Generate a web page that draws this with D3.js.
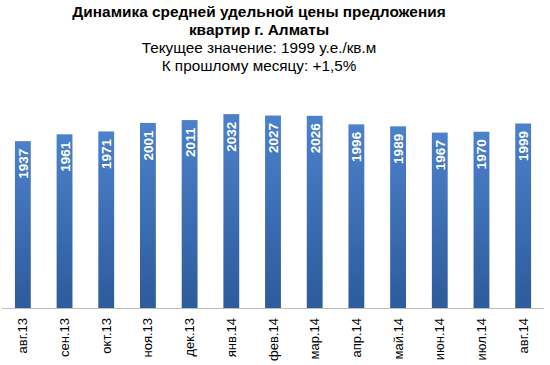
<!DOCTYPE html>
<html><head><meta charset="utf-8">
<script src="https://cdn.jsdelivr.net/npm/d3@7"></script>
<style>body{margin:0;background:#fff}svg{display:block}</style>
</head><body>
<svg id="c" width="550" height="365"></svg>
<script>
const categories = ["авг.13","сен.13","окт.13","ноя.13","дек.13","янв.14","фев.14","мар.14","апр.14","май.14","июн.14","июл.14","авг.14"];
const values = [1937,1961,1971,2001,2011,2032,2027,2026,1996,1989,1967,1970,1999];
const titleLines = ["Динамика средней удельной цены предложения","квартир г. Алматы"];
const subtitleLines = ["Текущее значение: 1999 у.е./кв.м","К прошлому месяцу: +1,5%"];

const svg = d3.select("#c");
const font = "Arial, 'Liberation Sans', sans-serif";
const defs = svg.append("defs");
const g = defs.append("linearGradient").attr("id","bg").attr("x1",0).attr("y1",0).attr("x2",0).attr("y2",1);
g.append("stop").attr("offset","0%").attr("stop-color","#4c81cb");
g.append("stop").attr("offset","100%").attr("stop-color","#2d5b9c");

const x = d3.scaleBand().domain(categories).range([2,544]).paddingInner(0.62).paddingOuter(0.31);
const y = d3.scaleLinear().domain([1350,2050]).range([308,109]);

svg.append("g").selectAll("rect").data(values).join("rect")
  .attr("x",(d,i)=>x(categories[i])).attr("width",x.bandwidth())
  .attr("y",d=>y(d)).attr("height",d=>y.range()[0]-y(d))
  .attr("fill","url(#bg)");

svg.append("g").selectAll("text").data(values).join("text")
  .attr("transform",(d,i)=>`translate(${x(categories[i])+x.bandwidth()/2+5},${y(d)+7.5}) rotate(-90)`)
  .attr("text-anchor","end").attr("fill","#fff").attr("font-weight","bold")
  .attr("font-family",font).attr("font-size","13.5px").text(d=>d);

const ax = svg.append("g").attr("transform","translate(0,308)")
  .call(d3.axisBottom(x).tickSize(0).tickPadding(0));
ax.select(".domain").attr("stroke","#bfbfbf").attr("d","M2,0.5H544");
ax.selectAll(".tick text").attr("font-family",font).attr("font-size","13px").attr("fill","#000")
  .attr("text-anchor","end").attr("dy",null).attr("y",0)
  .attr("transform","translate(4.5,10) rotate(-90)");

const cx = 259;
svg.append("g").selectAll("text").data(titleLines).join("text")
  .attr("x",cx).attr("y",(d,i)=>17+i*17.5).attr("text-anchor","middle")
  .attr("font-family",font).attr("font-weight","bold").attr("font-size","15.4px").text(d=>d);
svg.append("g").selectAll("text").data(subtitleLines).join("text")
  .attr("x",cx).attr("y",(d,i)=>52.5+i*18).attr("text-anchor","middle")
  .attr("font-family",font).attr("font-size","15.3px").text(d=>d);
</script>
</body></html>
